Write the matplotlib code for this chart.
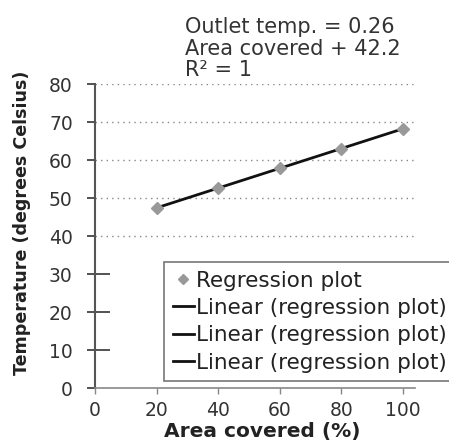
import matplotlib
matplotlib.use("Agg")
import matplotlib.pyplot as plt
import numpy as np
from matplotlib.ticker import FixedLocator

plt.rcParams['font.family'] = ['DejaVu Sans']

# data
area = [20, 40, 60, 80, 100]
temp = [47.4, 52.6, 57.8, 63.0, 68.2]
slope, intercept = 0.26, 42.2
xticks = [0, 20, 40, 60, 80, 100]
yticks = [0, 10, 20, 30, 40, 50, 60, 70, 80]
legend_labels = ["Regression plot", "Linear (regression plot)",
                 "Linear (regression plot)", "Linear (regression plot)"]
equation = "Outlet temp. = 0.26\nArea covered + 42.2\nR\u00b2 = 1"

fig = plt.figure(figsize=(4.49, 4.41), dpi=100)
ax = fig.add_axes([95/449, 53/441, 320/449, 304/441])

fit_x = np.array([area[0], area[-1]])
fit_y = slope * fit_x + intercept

line, = ax.plot(fit_x, fit_y, color='#111111', lw=2, zorder=3)
pts, = ax.plot(area, temp, linestyle='none', marker='D', markersize=6,
               color='#999999', markeredgecolor='#999999', zorder=4)
l2, = ax.plot([], [], color='#111111', lw=2)
l3, = ax.plot([], [], color='#111111', lw=2)

ax.set_xlim(0, 104)
ax.set_ylim(0, 80)
ax.set_xticks(xticks)
ax.set_yticks(yticks)

# grid only for upper part
for y in yticks:
    if y >= 40:
        ax.axhline(y, color='#888888', lw=1, ls=(0, (1, 3)), zorder=1)

for s in ['top', 'right']:
    ax.spines[s].set_visible(False)
ax.spines['left'].set_color('#555555')
ax.spines['left'].set_linewidth(1.5)
ax.spines['bottom'].set_color('#888888')
ax.spines['bottom'].set_linewidth(1.2)

ax.tick_params(axis='y', direction='out', length=6, width=1.3, color='#444444',
               pad=10, labelsize=13.5, labelcolor='#333333')
ax.tick_params(axis='x', direction='out', length=4, width=1, color='#888888',
               pad=5, labelsize=13.5, labelcolor='#333333')

# inward stubs at low ticks
ax.yaxis.remove_overlapping_locs = False
ax.yaxis.set_minor_locator(FixedLocator([10, 20, 30]))
ax.tick_params(axis='y', which='minor', direction='in', length=11, width=1.3,
               color='#444444')

fig.text(262/449, 1 - 432/441, "Area covered (%)", ha='center', va='center',
         fontsize=14.5, fontweight='bold', color='#222222')
fig.text(22/449, 1 - 223/441, "Temperature (degrees Celsius)", ha='center',
         va='center', rotation=90, fontsize=12.6, fontweight='bold',
         color='#222222')

fig.text(185/449, 1 - 17/441, equation, ha='left', va='top', fontsize=15,
         color='#333333', linespacing=1.1)

leg = ax.legend([pts, line, l2, l3], legend_labels, loc='upper left',
                bbox_to_anchor=((164-95)/320, (388-262)/304),
                fontsize=15.5, frameon=True, fancybox=False,
                handlelength=1.0, handletextpad=0.1, labelspacing=0.34,
                borderpad=0.4, borderaxespad=0, markerscale=0.8,
                labelcolor='#222222')
leg.get_frame().set_edgecolor('#555555')
leg.get_frame().set_linewidth(1.2)
leg.set_zorder(5)

fig.savefig("out.png", dpi=100)
